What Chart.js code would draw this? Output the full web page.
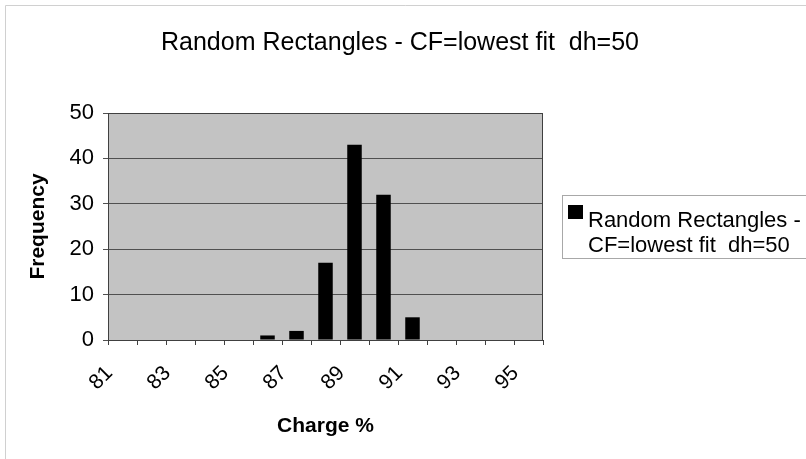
<!DOCTYPE html>
<html>
<head>
<meta charset="utf-8">
<script src="https://cdn.jsdelivr.net/npm/chart.js@4.4.1/dist/chart.umd.min.js"></script>
<style>
html,body{margin:0;padding:0;background:#fff;}
#wrap{width:806px;height:459px;position:relative;}
</style>
</head>
<body>
<div id="wrap"><canvas id="c" width="806" height="459"></canvas></div>
<script>
// ---- data ----
const categories = ['81','82','83','84','85','86','87','88','89','90','91','92','93','94','95'];
const frequency  = [0, 0, 0, 0, 0, 1, 2, 17, 43, 32, 5, 0, 0, 0, 0];
const yTickValues = [0, 10, 20, 30, 40, 50];
const chartTitle = 'Random Rectangles - CF=lowest fit  dh=50';
const seriesLabel = ['Random Rectangles -', 'CF=lowest fit  dh=50'];
const xAxisTitle = 'Charge %';
const yAxisTitle = 'Frequency';

const FAMILY = '"Liberation Sans", Arial, Helvetica, sans-serif';

const deco = {
  id: 'deco',
  beforeDraw(chart) {
    const {ctx, chartArea: a} = chart;
    ctx.save();
    ctx.fillStyle = '#ffffff';
    ctx.fillRect(0, 0, chart.width, chart.height);
    ctx.fillStyle = '#c3c3c3';
    ctx.fillRect(a.left, a.top, a.right - a.left, a.bottom - a.top);
    ctx.strokeStyle = '#d0d0d0';
    ctx.lineWidth = 1;
    ctx.beginPath();
    ctx.moveTo(5.5, chart.height);
    ctx.lineTo(5.5, 5.5);
    ctx.lineTo(chart.width, 5.5);
    ctx.stroke();
    ctx.restore();
  },
  afterDraw(chart) {
    const {ctx, chartArea: a} = chart;
    ctx.save();
    // plot border
    ctx.strokeStyle = '#404040';
    ctx.lineWidth = 1;
    ctx.strokeRect(Math.round(a.left) + 0.5, Math.round(a.top) + 0.5,
                   Math.round(a.right - a.left) - 1, Math.round(a.bottom - a.top));
    // title
    ctx.fillStyle = '#000';
    ctx.font = '25px ' + FAMILY;
    ctx.textAlign = 'center';
    ctx.textBaseline = 'middle';
    ctx.fillText(chartTitle, 400, 43);
    // legend
    ctx.fillStyle = '#fff';
    ctx.fillRect(562.5, 195.5, 300, 63);
    ctx.strokeStyle = '#a8a8a8';
    ctx.strokeRect(562.5, 195.5, 300, 63);
    ctx.fillStyle = chart.data.datasets[0].backgroundColor;
    ctx.fillRect(568, 205, 15, 14);
    ctx.fillStyle = '#000';
    ctx.font = '22px ' + FAMILY;
    ctx.textAlign = 'left';
    ctx.textBaseline = 'alphabetic';
    ctx.fillText(seriesLabel[0], 588, 227);
    ctx.fillText(seriesLabel[1], 588, 251.5);
    ctx.restore();
  }
};

new Chart(document.getElementById('c'), {
  type: 'bar',
  data: {
    labels: categories,
    datasets: [{
      label: seriesLabel.join(' '),
      data: frequency,
      backgroundColor: '#000000',
      borderWidth: 0,
      barPercentage: 0.5,
      categoryPercentage: 1.0
    }]
  },
  options: {
    responsive: false,
    animation: false,
    devicePixelRatio: 1,
    layout: { padding: { top: 113, right: 263, bottom: 0, left: 0 } },
    plugins: {
      legend: { display: false },
      title: { display: false },
      tooltip: { enabled: false }
    },
    scales: {
      x: {
        offset: true,
        grid: { offset: true, drawOnChartArea: false, drawTicks: true, tickLength: 5, color: '#404040' },
        border: { display: true, color: '#303030', width: 1 },
        ticks: {
          autoSkip: false,
          minRotation: 45,
          maxRotation: 45,
          labelOffset: -13,
          padding: 16,
          color: '#000',
          font: { family: FAMILY, size: 21 },
          callback: (v, i) => (i % 2 === 0 ? categories[i] : '')
        },
        title: {
          display: true, text: xAxisTitle, color: '#000',
          font: { family: FAMILY, size: 21, weight: 'bold' },
          padding: { top: 0, bottom: 20 }
        },
        afterFit: s => { s.height = 119; }
      },
      y: {
        min: 0, max: 50,
        afterBuildTicks: s => { s.ticks = yTickValues.map(v => ({ value: v })); },
        grid: { color: '#505050', drawTicks: true, tickLength: 5 },
        border: { display: true, color: '#303030', width: 1 },
        ticks: {
          padding: 9,
          color: '#000',
          font: { family: FAMILY, size: 22 }
        },
        title: {
          display: true, text: yAxisTitle, color: '#000',
          font: { family: FAMILY, size: 21, weight: 'bold' },
          padding: { top: 26, bottom: 0 }
        },
        afterFit: s => { s.width = 108; }
      }
    }
  },
  plugins: [deco]
});
</script>
</body>
</html>
